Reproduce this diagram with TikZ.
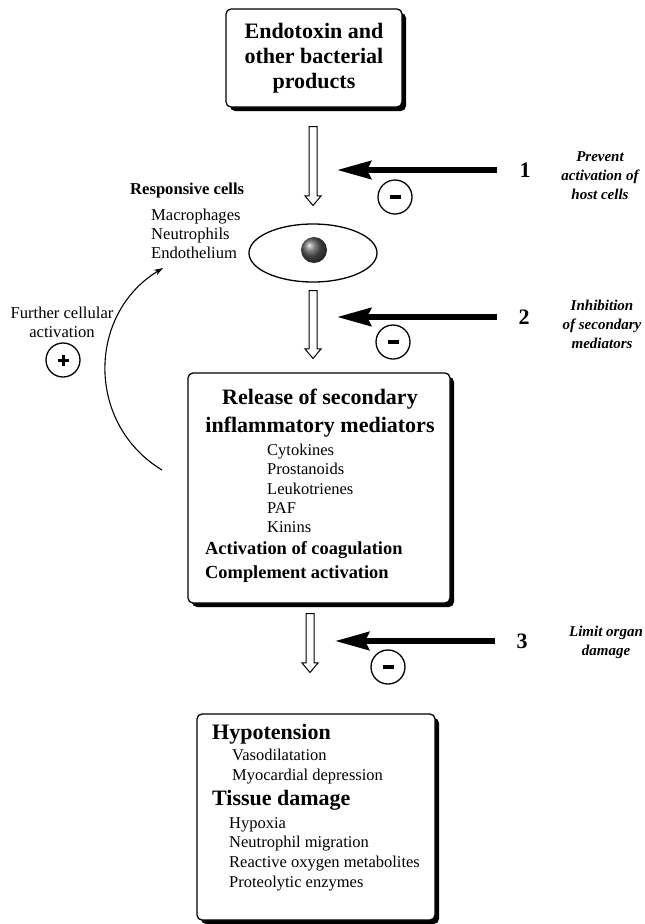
\documentclass[tikz,border=0pt]{standalone}
\usepackage{fontspec}
\setmainfont{Liberation Serif}
\usetikzlibrary{shapes.geometric,shapes.arrows,arrows.meta,shadows}

\tikzset{
  panel/.style={rectangle, draw, line width=1.3pt, fill=white, rounded corners=5pt,
    drop shadow={shadow xshift=4pt, shadow yshift=-4pt, opacity=1, fill=black}},
  flowarrow/.style={single arrow, draw, fill=white, line width=1pt, rotate=-90, inner xsep=0pt, inner ysep=3.5pt,
    single arrow head extend=4pt, single arrow head indent=0pt, single arrow tip angle=80, anchor=tail},
  blockarrow/.style={-{Stealth[length=34pt, width=18pt, inset=4pt]}, line width=6pt},
  looparrow/.style={-{Stealth[length=9pt, width=6pt]}, line width=1.1pt},
  sign/.style={circle, draw, line width=1.3pt, minimum size=34pt, inner sep=0pt},
  num/.style={font=\fontsize{22}{24}\selectfont\bfseries, inner sep=0pt},
  hint/.style={font=\fontsize{15}{19}\selectfont\bfseries\itshape, align=center, inner sep=0pt},
  item/.style={font=\fontsize{16.5}{19.5}\selectfont, align=left, anchor=north west, inner sep=0pt},
  head/.style={font=\fontsize{22}{28}\selectfont\bfseries, inner sep=0pt},
}
\newcommand{\minusbar}{\rule[-2pt]{11pt}{4pt}}
\newcommand{\plusbar}{\rule[-1.5pt]{11pt}{3pt}\llap{\rule[-5.5pt]{3pt}{11pt}\hspace{4pt}}}

\begin{document}
\begin{tikzpicture}[x=1pt, y=-1pt]
  \useasboundingbox (0,0) rectangle (645,924);

  % the three boxes
  \node[panel, minimum width=176pt, minimum height=98pt, align=center,
    font=\fontsize{22}{25}\selectfont\bfseries] (endotoxin) at (314,58) {Endotoxin and\\other bacterial\\products};
  \node[panel, minimum width=262pt, minimum height=230pt] (mediators) at (319,488) {};
  \node[panel, minimum width=238pt, minimum height=206pt] (damage) at (316,817) {};

  % responsive cells
  \node[ellipse, draw, line width=1.3pt, minimum width=128pt, minimum height=58pt, inner sep=0pt] (cell) at (313,253) {};
  \node[circle, minimum size=26pt, inner sep=0pt, shading=ball, ball color=gray!70!black] (nucleus) at (314,250) {};
  \node[item, font=\fontsize{16.6}{19.5}\selectfont\bfseries] (cellhead) at (130,183) {Responsive cells};
  \node[item, font=\fontsize{16.6}{19}\selectfont] (celllist) at (151,209) {Macrophages\\Neutrophils\\Endothelium};

  % box contents
  \node[head, anchor=north, align=center] (medhead) at (320,389) {Release of secondary\\inflammatory mediators};
  \node[item, font=\fontsize{16.5}{19.3}\selectfont] (medlist) at (267,444) {Cytokines\\Prostanoids\\Leukotrienes\\PAF\\Kinins};
  \node[item, font=\fontsize{18.4}{24}\selectfont\bfseries] (medmore) at (205,541) {Activation of coagulation\\Complement activation};
  \node[head, anchor=north west] (hyphead) at (212,724) {Hypotension};
  \node[item] (hyplist) at (232,749) {Vasodilatation\\Myocardial depression};
  \node[head, anchor=north west] (tisshead) at (212,790) {Tissue damage};
  \node[item, font=\fontsize{16.5}{19.7}\selectfont] (tisslist) at (229,817) {Hypoxia\\Neutrophil migration\\Reactive oxygen metabolites\\Proteolytic enzymes};

  % main flow
  \node[flowarrow, minimum height=79pt] (flow1) at (313,126) {};
  \node[flowarrow, minimum height=68pt] (flow2) at (313,290) {};
  \node[flowarrow, minimum height=59pt] (flow3) at (310,613) {};

  % points of intervention
  \node[num] (n1) at (525,170) {1};
  \node[num] (n2) at (524,317) {2};
  \node[num] (n3) at (522,641) {3};
  \coordinate (stop1) at (337,170);
  \coordinate (stop2) at (337,317);
  \coordinate (stop3) at (335,641);
  \draw[blockarrow, shorten <=22pt] (n1) -- (stop1);
  \draw[blockarrow, shorten <=21pt] (n2) -- (stop2);
  \draw[blockarrow, shorten <=21pt] (n3) -- (stop3);
  \node[hint] (hint1) at (600,176) {Prevent\\activation of\\host cells};
  \node[hint] (hint2) at (602,324) {Inhibition\\of secondary\\mediators};
  \node[hint] (hint3) at (606,642) {Limit organ\\damage};
  \node[sign] (minus1) at (395,197) {\minusbar};
  \node[sign] (minus2) at (393,342) {\minusbar};
  \node[sign] (minus3) at (388,667) {\minusbar};

  % feedback loop
  \node[font=\fontsize{16.6}{19}\selectfont, align=center, anchor=north, inner sep=0pt] (further) at (62,307) {Further cellular\\activation};
  \node[sign] (plus) at (63,360) {\plusbar};
  \coordinate (loopfrom) at (162,470);
  \coordinate (loopto) at (163,268);
  \draw[looparrow] (loopfrom) .. controls (86,424) and (87,314) .. (loopto);
\end{tikzpicture}
\end{document}
